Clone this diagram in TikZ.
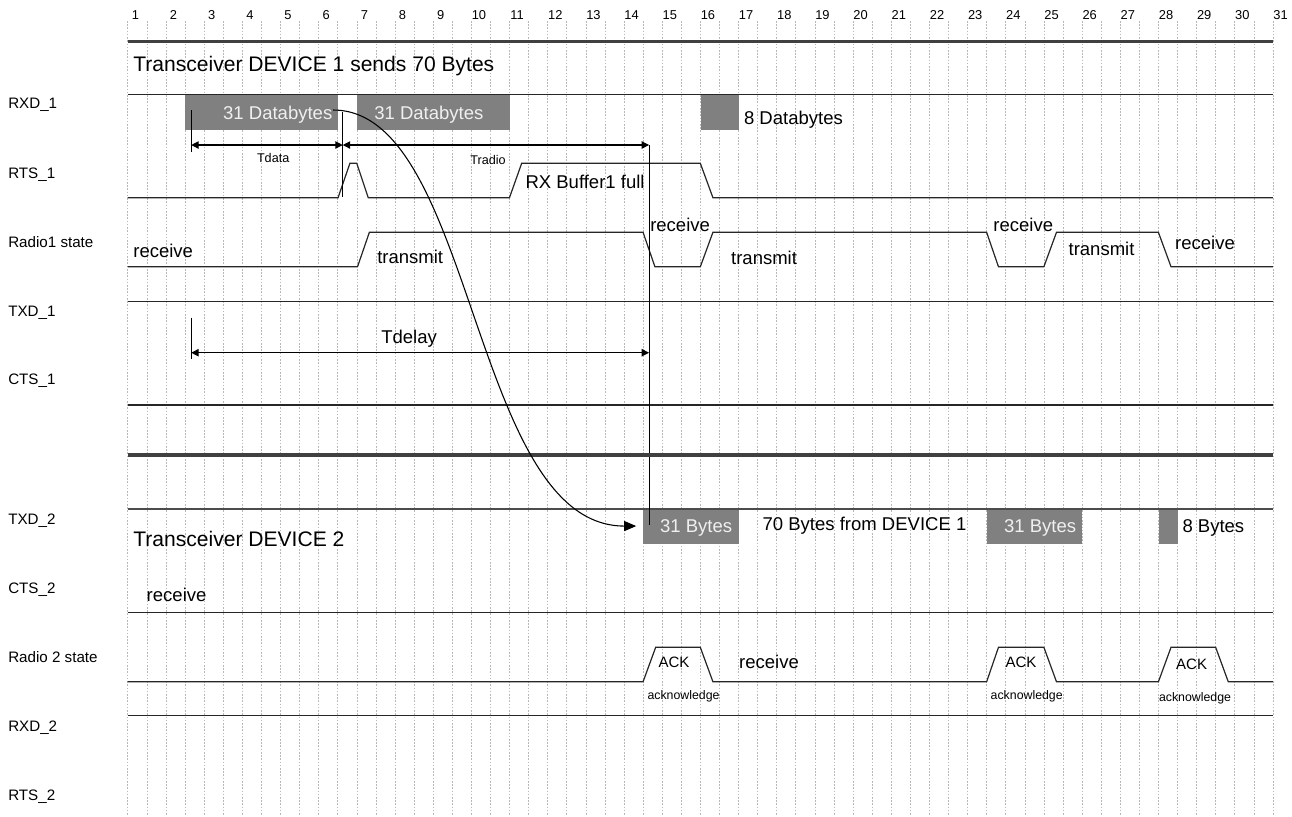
\documentclass[tikz,border=0pt]{standalone}
\usepackage{fontspec}
\setmainfont{Liberation Sans}
\usetikzlibrary{arrows.meta}

\begin{document}
\begin{tikzpicture}[
    gridline/.style={black!28, line width=0.4pt, dash pattern=on 1.2pt off 1.2pt},
    sig/.style={black!85, line width=0.9pt},
    sepline/.style={black!75, line width=2.6pt},
    dbox/.style={fill=black!50, draw=none, inner sep=0pt, anchor=north west},
    boxtxt/.style={text=black!6, font=\fontsize{13.8}{16}\selectfont, inner sep=0pt, text height=0.72em, text depth=0pt},
    txt/.style={font=\fontsize{13.8}{16}\selectfont, inner sep=0pt, text height=0.72em, text depth=0pt},
    bigtxt/.style={font=\fontsize{15.7}{18}\selectfont, inner sep=0pt, anchor=west, text height=0.72em, text depth=0pt},
    signame/.style={font=\fontsize{11.3}{13}\selectfont, inner sep=0pt, anchor=west, text height=0.72em, text depth=0pt},
    smalltxt/.style={font=\fontsize{9.4}{11}\selectfont, inner sep=0pt, text height=0.72em, text depth=0pt},
    numtxt/.style={font=\fontsize{9.6}{11}\selectfont, inner sep=0pt},
    dim/.style={black, line width=0.8pt, {Triangle[length=5.5pt,width=5.5pt]}-{Triangle[length=5.5pt,width=5.5pt]}},
  ]
    \useasboundingbox (-2.346,0) rectangle (31.5,-21.378);

    % Grid and column numbers
    \foreach \i in {0,...,60}
        \draw[gridline] ({1+\i/2},-0.55) -- ({1+\i/2},-21.378);
    \foreach \k in {1,...,31}
        \node[numtxt] (n\k) at (\k+0.2,-0.393) {\k};

    % Signal names
    \node[signame] (lrxd1) at (-2.136,-2.725) {RXD\_1};
    \node[signame] (lrts1) at (-2.136,-4.540) {RTS\_1};
    \node[signame] (lrad1) at (-2.136,-6.348) {Radio1 state};
    \node[signame] (ltxd1) at (-2.136,-8.166) {TXD\_1};
    \node[signame] (lcts1) at (-2.136,-9.955) {CTS\_1};
    \node[signame] (ltxd2) at (-2.136,-13.605) {TXD\_2};
    \node[signame] (lcts2) at (-2.136,-15.413) {CTS\_2};
    \node[signame] (lrad2) at (-2.136,-17.231) {Radio 2 state};
    \node[signame] (lrxd2) at (-2.136,-19.039) {RXD\_2};
    \node[signame] (lrts2) at (-2.136,-20.846) {RTS\_2};

    % Device 1
    \draw[sepline] (1,-1.087) -- (31,-1.087);
    \node[bigtxt] (dev1) at (1.14,-1.755) {Transceiver DEVICE 1 sends 70 Bytes};

    % RXD_1 data
    \node[dbox, minimum width=4cm, minimum height=0.916cm] (r1) at (2.5,-2.471) {};
    \node[dbox, minimum width=4cm, minimum height=0.916cm] (r2) at (7,-2.471) {};
    \node[dbox, minimum width=1cm, minimum height=0.916cm] (r3) at (16,-2.471) {};
    \node[boxtxt] (d1) at (4.93,-3.013) {31 Databytes};
    \node[boxtxt] (d2) at (8.89,-3.013) {31 Databytes};
    \node[txt] (d3) at (18.44,-3.126) {8 Databytes};
    \draw[sig] (1,-2.471) -- (31,-2.471);

    % RTS_1
    \draw[sig] (1,-5.179) -- (6.51,-5.179) -- (6.82,-4.278) -- (7.0,-4.278) -- (7.3,-5.179)
        -- (11.0,-5.179) -- (11.32,-4.278) -- (16.0,-4.278) -- (16.33,-5.179) -- (31,-5.179);
    \node[txt] (full) at (12.98,-4.802) {RX Buffer1 full};

    % Radio1 state
    \draw[sig] (1,-6.987) -- (7.02,-6.987) -- (7.33,-6.086) -- (14.5,-6.086) -- (14.81,-6.987)
        -- (16.0,-6.987) -- (16.33,-6.086) -- (23.5,-6.086) -- (23.81,-6.987) -- (25.0,-6.987)
        -- (25.33,-6.086) -- (28.0,-6.086) -- (28.33,-6.987) -- (31,-6.987);
    \node[txt, anchor=west] (s1) at (1.14,-6.620) {receive};
    \node[txt] (s2) at (8.40,-6.767) {transmit};
    \node[txt] (s3) at (15.47,-5.939) {receive};
    \node[txt] (s4) at (17.67,-6.793) {transmit};
    \node[txt] (s5) at (24.46,-5.939) {receive};
    \node[txt] (s6) at (26.51,-6.576) {transmit};
    \node[txt] (s7) at (29.22,-6.400) {receive};

    \draw[sig] (1,-7.904) -- (31,-7.904);
    \draw[sig] (1,-10.610) -- (31,-10.610);

    % Timing marks
    \coordinate (ta) at (2.664,-3.799);
    \coordinate (tb) at (6.633,-3.799);
    \coordinate (tc) at (14.657,-3.799);
    \coordinate (ya) at (2.664,-9.240);
    \coordinate (yc) at (14.657,-9.240);
    \draw[black, line width=0.8pt] (2.664,-2.882) -- (2.664,-3.974);
    \draw[black, line width=0.8pt] (6.633,-2.926) -- (6.633,-5.153);
    \draw[black, line width=0.8pt] (14.657,-3.799) -- (14.657,-13.754);
    \draw[black, line width=0.8pt] (2.664,-8.323) -- (2.664,-9.405);
    \draw[dim] (ta) -- (tb);
    \draw[dim] (tb) -- (tc);
    \draw[dim] (ya) -- (yc);
    \node[smalltxt] (tdata) at (4.81,-4.139) {Tdata};
    \node[smalltxt] (tradio) at (10.44,-4.192) {Tradio};
    \node[txt] (tdelay) at (8.37,-8.863) {Tdelay};

    % Device 2
    \draw[sepline] (1,-11.920) -- (31,-11.920);
    \node[bigtxt] (dev2) at (1.14,-14.192) {Transceiver DEVICE 2};

    % TXD_2 data
    \node[dbox, minimum width=2.5cm, minimum height=0.899cm] (b1) at (14.5,-13.335) {};
    \node[dbox, minimum width=2.5cm, minimum height=0.899cm] (b2) at (23.5,-13.335) {};
    \node[dbox, minimum width=0.5cm, minimum height=0.899cm] (b3) at (28,-13.335) {};
    \node[boxtxt] (e1) at (15.89,-13.833) {31 Bytes};
    \node[boxtxt] (e2) at (24.90,-13.833) {31 Bytes};
    \node[txt] (e3) at (29.44,-13.833) {8 Bytes};
    \node[txt] (from) at (20.30,-13.781) {70 Bytes from DEVICE 1};
    \draw[black!70, line width=1.3pt] (1,-13.335) -- (31,-13.335);
    \draw[black, line width=0.8pt] (14.657,-12.6) -- (14.657,-13.754);

    % Transfer
    \coordinate (cs) at (6.38,-2.882);
    \coordinate (ce) at (14.32,-13.781);
    \draw[black, line width=0.8pt, -{Triangle[length=9pt,width=7.5pt]}]
        (cs) .. controls (10.1,-2.882) and (10.0,-13.781) .. (ce);

    % CTS_2
    \draw[sig] (1,-16.041) -- (31,-16.041);
    \node[txt] (c2) at (2.28,-15.632) {receive};

    % Radio 2 state
    \draw[sig] (1,-17.860) -- (14.5,-17.860) -- (14.83,-16.958) -- (16.0,-16.958) -- (16.33,-17.860)
        -- (23.5,-17.860) -- (23.81,-16.958) -- (25.0,-16.958) -- (25.33,-17.860)
        -- (28.0,-17.860) -- (28.33,-16.958) -- (29.5,-16.958) -- (29.83,-17.860) -- (31,-17.860);
    \node[txt, font=\fontsize{11.2}{13}\selectfont] (a1) at (15.31,-17.362) {ACK};
    \node[txt, font=\fontsize{11.2}{13}\selectfont] (a2) at (24.40,-17.362) {ACK};
    \node[txt, font=\fontsize{11.2}{13}\selectfont] (a3) at (28.87,-17.40) {ACK};
    \node[smalltxt, font=\fontsize{9.2}{11}\selectfont] (k1) at (15.56,-18.189) {acknowledge};
    \node[smalltxt, font=\fontsize{9.2}{11}\selectfont] (k2) at (24.55,-18.189) {acknowledge};
    \node[smalltxt, font=\fontsize{9.2}{11}\selectfont] (k3) at (28.96,-18.252) {acknowledge};
    \node[txt] (rc2) at (17.80,-17.396) {receive};

    \draw[sig] (1,-18.750) -- (31,-18.750);
\end{tikzpicture}
\end{document}
